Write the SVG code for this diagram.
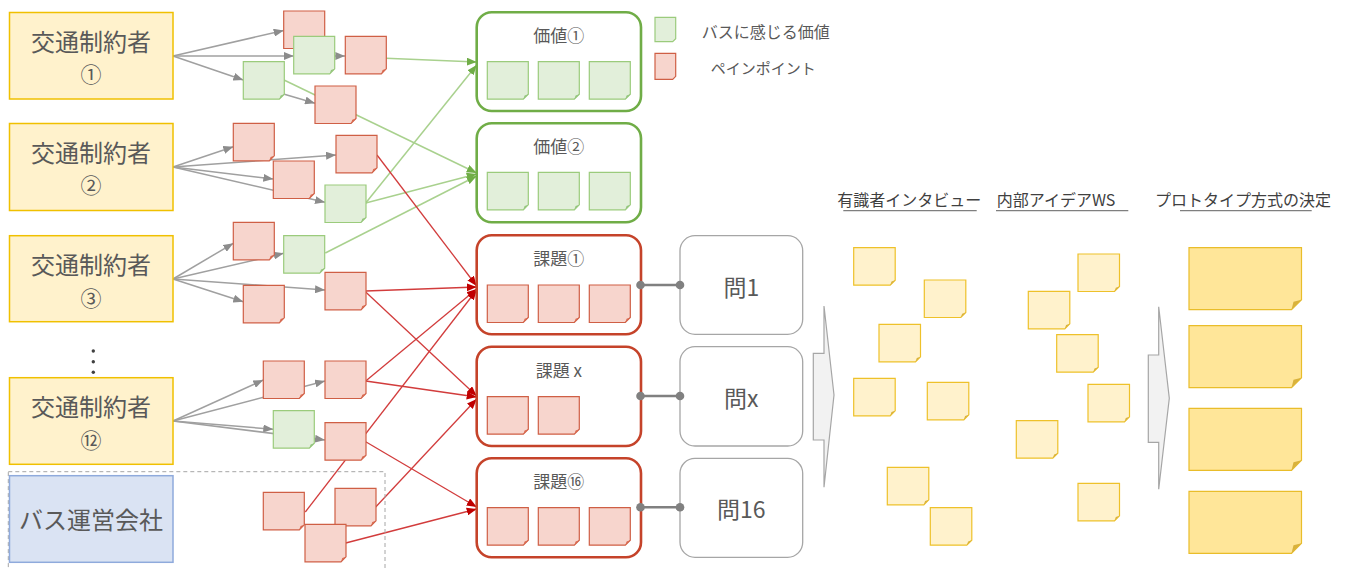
<svg xmlns="http://www.w3.org/2000/svg" xmlns:xlink="http://www.w3.org/1999/xlink" width="1351" height="568" viewBox="0 0 1351 568">
<style>
text{font-family:"Noto Sans CJK JP","Liberation Sans",sans-serif;fill:#595959;dominant-baseline:central}
.tb{fill:#fff2cc;stroke:#f0c000;stroke-width:1.5}
.bus{fill:#dae3f3;stroke:#8faadc;stroke-width:1.5}
.t24{font-size:24px;text-anchor:middle}
.t21{font-size:21px;text-anchor:middle}
.t17{font-size:17px;text-anchor:middle}
.t23{font-size:23px;text-anchor:middle}
.hd{font-size:16px;fill:#404040}
.gv{fill:#fff;stroke:#70ad47;stroke-width:2.6}
.gi{fill:#fff;stroke:#c5432a;stroke-width:2.6}
.q{fill:#fff;stroke:#a6a6a6;stroke-width:1.3}
.ag{stroke:#a0a0a0;stroke-width:1.5;fill:none;marker-end:url(#mg)}
.lg{stroke:#a9d18e;stroke-width:1.5;fill:none;marker-end:url(#mgr)}
.lr{stroke:#d23c3c;stroke-width:1.3;fill:none;marker-end:url(#mr)}
.qc{stroke:#808080;stroke-width:2.5}
.dot{fill:#808080}
.rb{fill:#f7d5cd;stroke:#cf5f45;stroke-width:1.2}
.rf{fill:#d9694f}
.gb{fill:#e2efda;stroke:#9bcb7c;stroke-width:1.2}
.gf{fill:#93c47d}
.yb{fill:#fff2cc;stroke:#eec12a;stroke-width:1.2}
.yf{fill:#d9b23c}
.Yb{fill:#ffe699;stroke:#e9bd2a;stroke-width:1.2}
.blk{fill:#f2f2f2;stroke:#a6a6a6;stroke-width:1.2}
.ul{stroke:#7f7f7f;stroke-width:1.3}
</style>
<defs>
<marker id="mg" viewBox="0 0 10 8" refX="10" refY="4" markerWidth="10" markerHeight="8" markerUnits="userSpaceOnUse" orient="auto"><path d="M0,0 L10,4 L0,8 Z" fill="#8c8c8c"/></marker>
<marker id="mgr" viewBox="0 0 10 8" refX="10" refY="4" markerWidth="10" markerHeight="8" markerUnits="userSpaceOnUse" orient="auto"><path d="M0,0 L10,4 L0,8 Z" fill="#70ad47"/></marker>
<marker id="mr" viewBox="0 0 10 8" refX="10" refY="4" markerWidth="10" markerHeight="8" markerUnits="userSpaceOnUse" orient="auto"><path d="M0,0 L10,4 L0,8 Z" fill="#c00000"/></marker>
<g id="nr"><path class="rb" d="M0,0 H41 V32.5 L36,37.5 H0 Z"/><path class="rf" d="M36,37.5 L41,32.5 L37.3,33.8 Z"/></g>
<g id="ng"><path class="gb" d="M0,0 H41 V32.5 L36,37.5 H0 Z"/><path class="gf" d="M36,37.5 L41,32.5 L37.3,33.8 Z"/></g>
<g id="ny"><path class="yb" d="M0,0 H41.5 V32.5 L36.5,37.5 H0 Z"/><path class="yf" d="M36.5,37.5 L41.5,32.5 L37.8,33.8 Z"/></g>
<g id="nY"><path class="Yb" d="M0,0 H112.5 V52 L102.5,62 H0 Z"/><path class="yf" d="M102.5,62 L112.5,52 L104.5,54 Z"/></g>
</defs>
<rect width="1351" height="568" fill="#fff"/>

<g id="connectors">
<line class="ag" x1="173" y1="56" x2="283.7" y2="30.5"/>
<line class="ag" x1="173" y1="56" x2="293.7" y2="56"/>
<line class="ag" x1="173" y1="56" x2="243.3" y2="80"/>
<line class="ag" x1="283.5" y1="94" x2="315" y2="103.3"/>
<line class="ag" x1="335" y1="56" x2="345.3" y2="56"/>
<line class="ag" x1="173" y1="167" x2="233.3" y2="146.7"/>
<line class="ag" x1="173" y1="167" x2="336" y2="155"/>
<line class="ag" x1="173" y1="167" x2="273.3" y2="179"/>
<line class="ag" x1="173" y1="167" x2="325" y2="202.3"/>
<line class="ag" x1="173" y1="279" x2="233.3" y2="243.3"/>
<line class="ag" x1="173" y1="279" x2="283.7" y2="253.3"/>
<line class="ag" x1="173" y1="279" x2="325" y2="290"/>
<line class="ag" x1="173" y1="279" x2="243.3" y2="301.7"/>
<line class="ag" x1="173" y1="421" x2="263.3" y2="380"/>
<line class="ag" x1="173" y1="421" x2="325" y2="381"/>
<line class="ag" x1="173" y1="421" x2="273.3" y2="429.3"/>
<line class="ag" x1="173" y1="421" x2="325" y2="440"/>
<line class="lg" x1="386" y1="58.3" x2="476.7" y2="62"/>
<line class="lg" x1="284" y1="80" x2="476.7" y2="173"/>
<line class="lg" x1="365.7" y1="203" x2="476.7" y2="65"/>
<line class="lg" x1="365.7" y1="203" x2="476.7" y2="174"/>
<line class="lg" x1="325.3" y1="253" x2="476.7" y2="176"/>
<line class="lr" x1="377" y1="155" x2="476.7" y2="286"/>
<line class="lr" x1="365.7" y1="291" x2="476.7" y2="287"/>
<line class="lr" x1="365.7" y1="381" x2="476.7" y2="289"/>
<line class="lr" x1="305.3" y1="512" x2="476.7" y2="290"/>
<line class="lr" x1="365.7" y1="292" x2="476.7" y2="396"/>
<line class="lr" x1="365.7" y1="381" x2="476.7" y2="397"/>
<line class="lr" x1="375.7" y1="507" x2="476.7" y2="399"/>
<line class="lr" x1="365.7" y1="441.7" x2="476.7" y2="507"/>
<line class="lr" x1="345.7" y1="543" x2="476.7" y2="509"/>
</g>

<g id="user1"><rect class="tb" x="9.5" y="12.5" width="163.5" height="86.5"/><text class="t24" x="91" y="40">交通制約者</text><text class="t21" x="91" y="73">①</text></g>
<g id="user2"><rect class="tb" x="9.5" y="123.5" width="163.5" height="87"/><text class="t24" x="91" y="151">交通制約者</text><text class="t21" x="91" y="184">②</text></g>
<g id="user3"><rect class="tb" x="9.5" y="235.7" width="163.5" height="86"/><text class="t24" x="91" y="263.4">交通制約者</text><text class="t21" x="91" y="296.5">③</text></g>
<g id="ellipsis"><circle cx="93.3" cy="351" r="1.7" fill="#404040"/><circle cx="93.3" cy="361.7" r="1.7" fill="#404040"/><circle cx="93.3" cy="372.3" r="1.7" fill="#404040"/></g>
<g id="user12"><rect class="tb" x="9.5" y="377.7" width="163.5" height="86.6"/><text class="t24" x="91" y="405.4">交通制約者</text><text class="t21" x="91" y="438.5">⑫</text></g>
<g id="busco">
<rect x="8.3" y="471.7" width="376.7" height="105" fill="none" stroke="#a6a6a6" stroke-width="1" stroke-dasharray="4 3"/>
<rect class="bus" x="9.5" y="475.7" width="163.5" height="86.6"/><text class="t24" x="91" y="518.5">バス運営会社</text></g>

<g id="notes-left">
<use href="#nr" x="283.7" y="11"/>
<use href="#ng" x="293.7" y="36.3"/>
<use href="#nr" x="345.3" y="36.3"/>
<use href="#ng" x="243.3" y="61.7"/>
<use href="#nr" x="315" y="86"/>
<use href="#nr" x="233.3" y="123.3"/>
<use href="#nr" x="336" y="135.3"/>
<use href="#nr" x="273.3" y="161"/>
<use href="#ng" x="325" y="185"/>
<use href="#nr" x="233.3" y="222.3"/>
<use href="#ng" x="283.7" y="235.7"/>
<use href="#nr" x="325" y="272.3"/>
<use href="#nr" x="243.3" y="285.3"/>
<use href="#nr" x="263.3" y="361"/>
<use href="#nr" x="325" y="361"/>
<use href="#ng" x="273.3" y="410.7"/>
<use href="#nr" x="325" y="422.7"/>
<use href="#nr" x="263.3" y="492.3"/>
<use href="#nr" x="335" y="488.3"/>
<use href="#nr" x="305" y="524.3"/>
</g>

<g id="value1"><rect class="gv" x="476.7" y="12.3" width="164.3" height="98.7" rx="15"/><text class="t17" x="558.8" y="34">価値①</text>
<use href="#ng" x="487.3" y="61.7"/><use href="#ng" x="538.3" y="61.7"/><use href="#ng" x="589.3" y="61.7"/></g>
<g id="value2"><rect class="gv" x="476.7" y="123.3" width="164.3" height="99" rx="15"/><text class="t17" x="558.8" y="145.5">価値②</text>
<use href="#ng" x="487.3" y="172.3"/><use href="#ng" x="538.3" y="172.3"/><use href="#ng" x="589.3" y="172.3"/></g>
<g id="issue1"><rect class="gi" x="476.7" y="235.3" width="164.3" height="99" rx="15"/><text class="t17" x="558.8" y="257.3">課題①</text>
<use href="#nr" x="487.3" y="285"/><use href="#nr" x="538.3" y="285"/><use href="#nr" x="589.3" y="285"/></g>
<g id="issuex"><rect class="gi" x="476.7" y="346.7" width="164.3" height="99.3" rx="15"/><text class="t17" x="558.8" y="369">課題 x</text>
<use href="#nr" x="487.3" y="396.7"/><use href="#nr" x="538.3" y="396.7"/></g>
<g id="issue16"><rect class="gi" x="476.7" y="458.3" width="164.3" height="99" rx="15"/><text class="t17" x="558.8" y="480.8">課題⑯</text>
<use href="#nr" x="487.3" y="507.7"/><use href="#nr" x="538.3" y="507.7"/><use href="#nr" x="589.3" y="507.7"/></g>

<g id="q1"><rect class="q" x="680" y="235.7" width="122.7" height="98.6" rx="15"/><text class="t23" x="741.3" y="285.5">問1</text></g>
<g id="qx"><rect class="q" x="680" y="346.7" width="122.7" height="99.3" rx="15"/><text class="t23" x="741.3" y="396.7">問x</text></g>
<g id="q16"><rect class="q" x="680" y="458.3" width="122.7" height="99" rx="15"/><text class="t23" x="741.3" y="507.5">問16</text></g>

<g id="links">
<line class="qc" x1="640.5" y1="285" x2="680" y2="285"/>
<circle class="dot" cx="640.5" cy="285" r="4.3"/><circle class="dot" cx="680" cy="285" r="4.3"/>
<line class="qc" x1="640.5" y1="396" x2="680" y2="396"/>
<circle class="dot" cx="640.5" cy="396" r="4.3"/><circle class="dot" cx="680" cy="396" r="4.3"/>
<line class="qc" x1="640.5" y1="507.3" x2="680" y2="507.3"/>
<circle class="dot" cx="640.5" cy="507.3" r="4.3"/><circle class="dot" cx="680" cy="507.3" r="4.3"/>
</g>

<g id="legend">
<path class="gb" d="M655,17.3 H675.7 V38.7 L672.7,41.7 H655 Z"/>
<path class="rb" d="M655,53.3 H675.7 V76.3 L672.7,79.3 H655 Z"/>
<text x="701.7" y="30.5" style="font-size:16px">バスに感じる価値</text>
<text x="710.7" y="67.5" style="font-size:15px">ペインポイント</text>
</g>

<g id="arrow1"><polygon class="blk" points="813.3,353.3 824,353.3 824,306 834,395 824,487.3 824,440 813.3,440"/></g>
<g id="arrow2"><polygon class="blk" points="1148.3,355 1158.7,355 1158.7,306.7 1169.3,398.3 1158.7,489.3 1158.7,442.3 1148.3,442.3"/></g>

<g id="interview">
<text class="hd" x="837.3" y="199.3">有識者インタビュー</text>
<line class="ul" x1="843.3" y1="210.7" x2="976.7" y2="210.7"/>
<use href="#ny" x="853.7" y="247.7"/>
<use href="#ny" x="924.3" y="280"/>
<use href="#ny" x="879" y="324.3"/>
<use href="#ny" x="853.7" y="378.3"/>
<use href="#ny" x="927.3" y="382.3"/>
<use href="#ny" x="887.3" y="467.3"/>
<use href="#ny" x="930.3" y="507.7"/>
</g>
<g id="workshop">
<text class="hd" x="996.7" y="199.3">内部アイデアWS</text>
<line class="ul" x1="996" y1="210.7" x2="1128.3" y2="210.7"/>
<use href="#ny" x="1078" y="254"/>
<use href="#ny" x="1028.3" y="291.3"/>
<use href="#ny" x="1056.7" y="334.7"/>
<use href="#ny" x="1088" y="384.3"/>
<use href="#ny" x="1016.3" y="420.7"/>
<use href="#ny" x="1078" y="483.3"/>
</g>
<g id="prototype">
<text class="hd" x="1155" y="199.3">プロトタイプ方式の決定</text>
<line class="ul" x1="1180" y1="210.7" x2="1311.7" y2="210.7"/>
<use href="#nY" x="1189" y="247.7"/>
<use href="#nY" x="1189" y="325.7"/>
<use href="#nY" x="1189" y="408.3"/>
<use href="#nY" x="1189" y="491.3"/>
</g>
</svg>
